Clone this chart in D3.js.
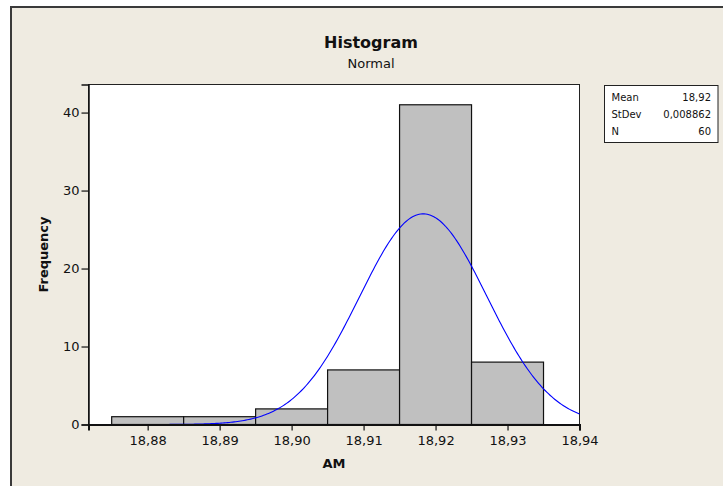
<!DOCTYPE html>
<html>
<head>
<meta charset="utf-8">
<script src="https://cdn.jsdelivr.net/npm/d3@7/dist/d3.min.js"></script>
<style>
  html, body { margin: 0; padding: 0; background: #ffffff; }
  svg { display: block; }
  text { font-family: "DejaVu Sans", Verdana, sans-serif; fill: #111; }
</style>
</head>
<body>
<svg id="chart" width="723" height="486"></svg>
<script>
// ---- data ----
const binCenters = [18.88, 18.89, 18.90, 18.91, 18.92, 18.93];
const binWidth = 0.01;
const counts = [1, 1, 2, 7, 41, 8];
const xTicks = [18.88, 18.89, 18.90, 18.91, 18.92, 18.93, 18.94];
const yTicks = [0, 10, 20, 30, 40];
const fitMean = 18.9183;
const fitStDev = 0.008862;
const fitN = 60;
const legendLabels = ["Mean", "StDev", "N"];
const legendValues = ["18,92", "0,008862", "60"];

const svg = d3.select("#chart");
const W = 723, H = 486;
const plot = { left: 88.5, right: 579.5, top: 84.5, bottom: 424.5 };

// background panel
svg.append("rect").attr("x", 0).attr("y", 0).attr("width", W).attr("height", H).attr("fill", "#ffffff");
svg.append("rect").attr("x", 11).attr("y", 7).attr("width", W).attr("height", H).attr("fill", "#EFEBE1");
svg.append("path").attr("d", `M11,${H} V7 H${W}`).attr("fill", "none").attr("stroke", "#3a3a3a").attr("stroke-width", 2);

const x = d3.scaleLinear().domain([18.87178, 18.94]).range([plot.left, plot.right]);
const y = d3.scaleLinear().domain([0, 43.6]).range([plot.bottom, plot.top]);

// plot area
svg.append("rect")
  .attr("x", plot.left).attr("y", plot.top)
  .attr("width", plot.right - plot.left).attr("height", plot.bottom - plot.top)
  .attr("fill", "#ffffff").attr("stroke", "#222").attr("stroke-width", 1);

// bars
svg.append("g").selectAll("rect").data(binCenters).join("rect")
  .attr("x", (d) => x(d - binWidth / 2))
  .attr("y", (d, i) => y(counts[i]))
  .attr("width", (d) => x(d + binWidth / 2) - x(d - binWidth / 2))
  .attr("height", (d, i) => y(0) - y(counts[i]))
  .attr("fill", "#C0C0C0").attr("stroke", "#111").attr("stroke-width", 1.2);

// fitted normal curve (from the fitted mean / stdev shown in the legend)
const dom = x.domain();
const samples = d3.range(0, 301).map(i => dom[0] + (dom[1] - dom[0]) * i / 300);
const pdf = v => fitN * binWidth / (fitStDev * Math.sqrt(2 * Math.PI)) * Math.exp(-0.5 * Math.pow((v - fitMean) / fitStDev, 2));
svg.append("path")
  .datum(samples)
  .attr("d", d3.line().x(d => x(d)).y(d => y(pdf(d))))
  .attr("fill", "none").attr("stroke", "#0000FF").attr("stroke-width", 1.1);

// axes
const xAxis = d3.axisBottom(x).tickValues(xTicks).tickSize(6).tickPadding(5)
  .tickFormat(d => d3.format(".2f")(d).replace(".", ","));
const gx = svg.append("g").attr("transform", `translate(0,${plot.bottom})`).call(xAxis);
gx.select(".domain").attr("stroke", "#111").attr("stroke-width", 2);
gx.selectAll(".tick line").attr("stroke", "#111").attr("stroke-width", 1.2);
gx.selectAll("text").attr("font-size", 13).style("fill", "#111");

const yAxis = d3.axisLeft(y).tickValues(yTicks).tickSize(7).tickPadding(2);
const gy = svg.append("g").attr("transform", `translate(${plot.left},0)`).call(yAxis);
gy.select(".domain").attr("stroke", "#111").attr("stroke-width", 1.5);
gy.selectAll(".tick line").attr("stroke", "#111").attr("stroke-width", 1.2);
gy.selectAll("text").attr("font-size", 13).style("fill", "#111");

// titles
svg.append("text").attr("x", 371).attr("y", 48).attr("text-anchor", "middle")
  .attr("font-size", 16).attr("font-weight", "bold").text("Histogram");
svg.append("text").attr("x", 371).attr("y", 68).attr("text-anchor", "middle")
  .attr("font-size", 13).text("Normal");
svg.append("text").attr("x", (plot.left + plot.right) / 2).attr("y", 468).attr("text-anchor", "middle")
  .attr("font-size", 13).attr("font-weight", "bold").text("AM");
svg.append("text").attr("transform", `translate(48,${(plot.top + plot.bottom) / 2}) rotate(-90)`)
  .attr("text-anchor", "middle").attr("font-size", 13).attr("font-weight", "bold").text("Frequency");

// legend box
const lg = svg.append("g");
lg.append("rect").attr("x", 604.5).attr("y", 85.5).attr("width", 113.5).attr("height", 57)
  .attr("fill", "#ffffff").attr("stroke", "#222").attr("stroke-width", 1);
legendLabels.forEach((t, i) => {
  lg.append("text").attr("x", 611.5).attr("y", 101 + i * 17.2).attr("font-size", 10).text(t);
  lg.append("text").attr("x", 711).attr("y", 101 + i * 17.2).attr("font-size", 10)
    .attr("text-anchor", "end").text(legendValues[i]);
});
</script>
</body>
</html>
